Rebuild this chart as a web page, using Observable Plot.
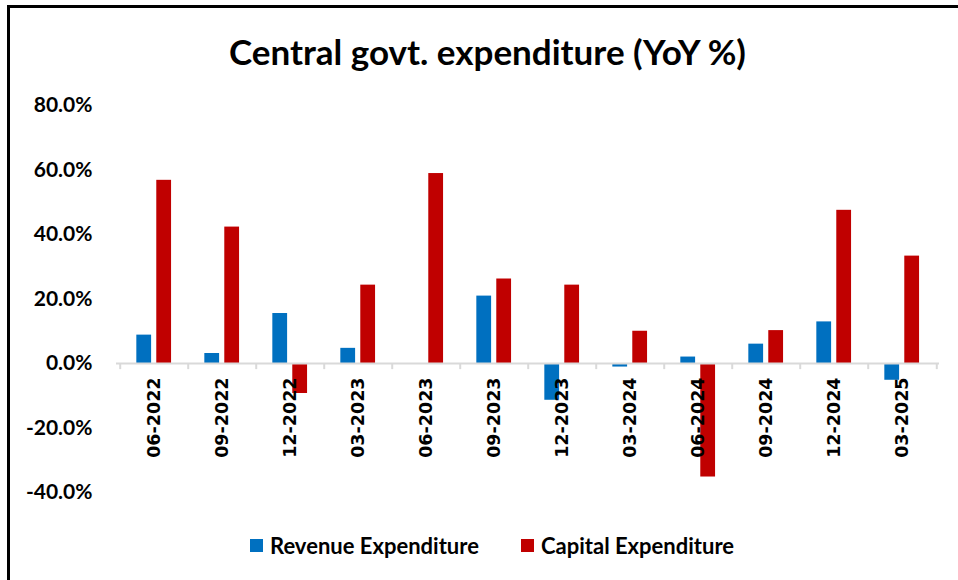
<!DOCTYPE html>
<html>
<head>
<meta charset="utf-8">
<script src="https://cdn.jsdelivr.net/npm/d3@7"></script>
<script src="https://cdn.jsdelivr.net/npm/@observablehq/plot@0.6"></script>
<style>
  html, body { margin: 0; padding: 0; background: #fff; }
  body { width: 958px; height: 580px; position: relative; overflow: hidden; }
  #frame { position: absolute; left: 7px; top: 5px; width: 960px; height: 600px;
           border-left: 3px solid #000; border-top: 3px solid #000; box-sizing: border-box; }
  #title { position: absolute; left: 16px; width: 943px; top: 31px; text-align: center;
           font-family: Lato, sans-serif; font-weight: 700; font-size: 35px; color: #000; line-height: 40px; }
  #chart { position: absolute; left: 0; top: 90px; }
  #legend { position: absolute; top: 531px; left: 0; width: 958px; height: 28px;
            font-family: Lato, sans-serif; font-weight: 700; font-size: 22px; color: #000; }
  .item { position: absolute; top: 0; display: flex; align-items: center; height: 28px; }
  .sw { width: 13px; height: 13px; margin-right: 7px; }
</style>
</head>
<body>
<div id="frame"></div>
<div id="title">Central govt. expenditure (YoY %)</div>
<div id="chart"></div>
<div id="legend"></div>
<script>
const categories = ["06-2022","09-2022","12-2022","03-2023","06-2023","09-2023","12-2023","03-2024","06-2024","09-2024","12-2024","03-2025"];
const revenueExpenditure = [8.8, 3.1, 15.5, 4.7, null, 20.9, -11.4, -1.1, 2.0, 6.0, 12.9, -5.2];
const capitalExpenditure = [56.8, 42.3, -9.3, 24.3, 58.9, 26.2, 24.3, 10.0, -35.2, 10.2, 47.5, 33.3];
const seriesNames = ["Revenue Expenditure", "Capital Expenditure"];
const seriesColors = ["#0070C0", "#C00000"];
const yTicks = [-40, -20, 0, 20, 40, 60, 80];

const rows = categories.map((c, i) => ({cat: c, rev: revenueExpenditure[i], cap: capitalExpenditure[i]}));

const W = 958, H = 430, mL = 116, mR = 19, mT = 15, mB = 28;
const step = (W - mL - mR) / categories.length;

const chart = Plot.plot({
  width: W, height: H,
  marginLeft: mL, marginRight: mR, marginTop: mT, marginBottom: mB,
  style: {fontFamily: "Lato, sans-serif", fontWeight: "bold", fontSize: "21px", color: "#000", background: "transparent"},
  x: {domain: categories, padding: 0, axis: null},
  y: {domain: [-40, 80], ticks: yTicks},
  marks: [
    Plot.axisY({ticks: yTicks, tickFormat: d => d.toFixed(1) + "%", tickSize: 0, tickPadding: 24, fontSize: 21, fontWeight: "bold", fill: "#000"}),
    Plot.barY(rows, {x: "cat", y: "rev", fill: seriesColors[0], insetLeft: step * 0.238, insetRight: step * 0.538}),
    Plot.barY(rows, {x: "cat", y: "cap", fill: seriesColors[1], insetLeft: step * 0.529, insetRight: step * 0.247}),
    Plot.ruleY([0], {stroke: "#d9d9d9", strokeWidth: 2}),
    Plot.ruleX(categories, {x: d => d, y1: 0, y2: -1.9, dx: -step / 2, stroke: "#d9d9d9", strokeWidth: 2}),
    Plot.ruleX(categories.slice(-1), {x: d => d, y1: 0, y2: -1.9, dx: step / 2, stroke: "#d9d9d9", strokeWidth: 2}),
    Plot.text(categories, {x: d => d, y: 0, text: d => d, rotate: -90, textAnchor: "end", dy: 14,
      fontFamily: "DejaVu Sans", fontWeight: "bold", fontSize: 17.5, fill: "#000"})
  ]
});
document.getElementById("chart").appendChild(chart);

const legend = document.getElementById("legend");
const lefts = [250, 521];
seriesNames.forEach((n, i) => {
  const it = document.createElement("div");
  it.className = "item";
  it.style.left = lefts[i] + "px";
  const sw = document.createElement("div");
  sw.className = "sw";
  sw.style.background = seriesColors[i];
  const t = document.createElement("span");
  t.textContent = n;
  it.appendChild(sw); it.appendChild(t);
  legend.appendChild(it);
});
</script>
</body>
</html>
